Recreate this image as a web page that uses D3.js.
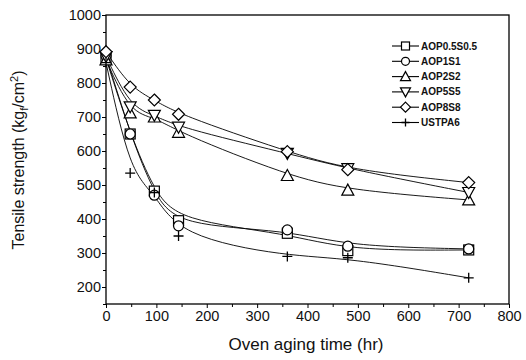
<!DOCTYPE html>
<html><head><meta charset="utf-8">
<script src="https://cdn.jsdelivr.net/npm/d3@7/dist/d3.min.js"></script>
<style>body{margin:0;background:#fff}svg{display:block}</style>
</head><body>
<svg id="c" width="526" height="360"></svg>
<script>
const times = [0, 48, 96, 144, 360, 480, 720];
const seriesNames = ["AOP0.5S0.5", "AOP1S1", "AOP2S2", "AOP5S5", "AOP8S8", "USTPA6"];
const aop05 = [872, 650, 482, 395, 358, 307, 309];
const aop1 = [880, 650, 470, 380, 368, 320, 312];
const aop2 = [868, 712, 700, 655, 528, 485, 456];
const aop5 = [878, 730, 705, 670, 593, 548, 478];
const aop8 = [892, 788, 750, 708, 598, 545, 507];
const ustpa6 = [860, 535, 478, 350, 290, 286, 227];
const xTicks = [0, 100, 200, 300, 400, 500, 600, 700, 800];
const yTicks = [200, 300, 400, 500, 600, 700, 800, 900, 1000];
const markers = ["square", "circle", "triangle", "triangleDown", "diamond", "plus"];

const series = [aop05, aop1, aop2, aop5, aop8, ustpa6].map((v, i) => ({name: seriesNames[i], marker: markers[i], values: v}));

const svg = d3.select("#c");
const L = 106, R = 509, T = 15, B = 304;
const x = d3.scaleLinear().domain([0, 800]).range([L, R]);
const y = d3.scaleLinear().domain([150, 1000]).range([B, T]);

svg.append("rect").attr("x", L).attr("y", T).attr("width", R - L).attr("height", B - T)
  .attr("fill", "none").attr("stroke", "#000").attr("stroke-width", 1.3);

const font = "Liberation Sans, Arial, sans-serif";
const xAxis = svg.append("g").attr("transform", `translate(0,${B})`)
  .call(d3.axisBottom(x).tickValues(xTicks).tickSize(4).tickPadding(3).tickFormat(d3.format("d")));
const xMinor = svg.append("g").attr("transform", `translate(0,${B})`)
  .call(d3.axisBottom(x).tickValues(d3.range(50, 800, 100)).tickSize(3).tickFormat(""));
const yAxis = svg.append("g").attr("transform", `translate(${L},0)`)
  .call(d3.axisLeft(y).tickValues(yTicks).tickSize(4).tickPadding(1).tickFormat(d3.format("d")));
const yMinor = svg.append("g").attr("transform", `translate(${L},0)`)
  .call(d3.axisLeft(y).tickValues(d3.range(150, 1000, 100)).tickSize(3).tickFormat(""));
[xAxis, xMinor, yAxis, yMinor].forEach(g => {
  g.select(".domain").remove();
  g.selectAll("line").attr("stroke", "#000").attr("stroke-width", 1);
  g.selectAll("text").attr("font-family", font).attr("font-size", 14.5).attr("fill", "#111");
});

svg.append("text").attr("x", 306).attr("y", 350).attr("text-anchor", "middle")
  .attr("font-family", font).attr("font-size", 17).attr("fill", "#111").text("Oven aging time (hr)");
const yt = svg.append("text").attr("transform", "translate(24,160) rotate(-90)").attr("text-anchor", "middle")
  .attr("font-family", font).attr("font-size", 16).attr("fill", "#111");
yt.append("tspan").text("Tensile strength (kg");
yt.append("tspan").attr("font-size", 11).attr("dy", 4).text("f");
yt.append("tspan").attr("dy", -4).text("/cm");
yt.append("tspan").attr("font-size", 11).attr("dy", -6).text("2");
yt.append("tspan").attr("dy", 6).text(")");

function drawMarker(g, type, cx, cy, s) {
  let el;
  if (type === "square") el = g.append("rect").attr("x", cx - s).attr("y", cy - s).attr("width", 2 * s).attr("height", 2 * s);
  else if (type === "circle") el = g.append("circle").attr("cx", cx).attr("cy", cy).attr("r", s);
  else if (type === "triangle") el = g.append("path").attr("d", `M${cx},${cy - s - 1}L${cx + s + 1},${cy + s}L${cx - s - 1},${cy + s}Z`);
  else if (type === "triangleDown") el = g.append("path").attr("d", `M${cx},${cy + s + 1}L${cx + s + 1},${cy - s}L${cx - s - 1},${cy - s}Z`);
  else if (type === "diamond") el = g.append("path").attr("d", `M${cx},${cy - s - 1}L${cx + s + 1},${cy}L${cx},${cy + s + 1}L${cx - s - 1},${cy}Z`);
  else if (type === "plus") {
    g.append("path").attr("d", `M${cx - s},${cy}H${cx + s}M${cx},${cy - s}V${cy + s}`)
      .attr("stroke", "#000").attr("stroke-width", 1.3).attr("fill", "none");
    return;
  }
  el.attr("fill", "#fff").attr("stroke", "#000").attr("stroke-width", 1.2);
}

const line = d3.line().x((d, i) => x(times[i])).y(d => y(d)).curve(d3.curveBasis);
const lines = svg.append("g");
series.forEach(s => {
  lines.append("path").attr("d", line(s.values)).attr("fill", "none")
    .attr("stroke", "#000").attr("stroke-width", 0.9);
});
const marks = svg.append("g");
series.forEach(s => {
  s.values.forEach((v, i) => drawMarker(marks, s.marker, x(times[i]), y(v), 5));
});

const lg = svg.append("g");
series.forEach((s, i) => {
  const yy = 46 + i * 15.3;
  lg.append("line").attr("x1", 392).attr("x2", 419).attr("y1", yy).attr("y2", yy)
    .attr("stroke", "#000").attr("stroke-width", 1.1);
  drawMarker(lg, s.marker, 405.5, yy, 4);
  lg.append("text").attr("x", 421).attr("y", yy + 3.5).attr("font-family", font)
    .attr("font-weight", "bold").attr("font-size", 10).attr("fill", "#111").text(s.name);
});
</script>
</body></html>
